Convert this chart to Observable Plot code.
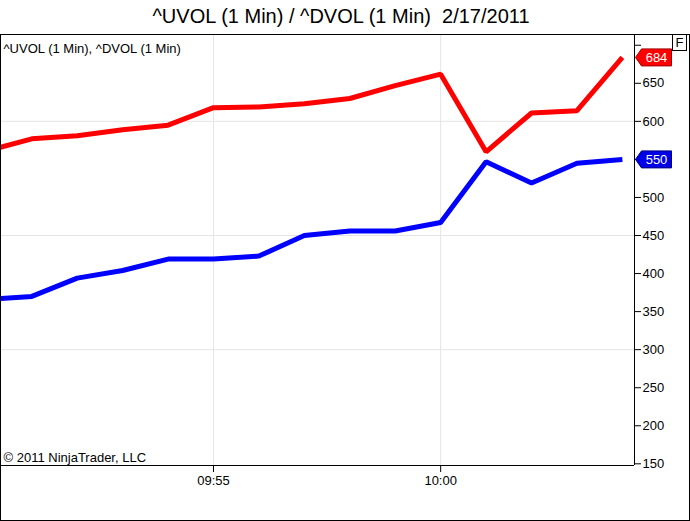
<!DOCTYPE html>
<html>
<head>
<meta charset="utf-8">
<script src="https://cdn.jsdelivr.net/npm/d3@7"></script>
<script src="https://cdn.jsdelivr.net/npm/@observablehq/plot@0.6"></script>
<style>
  html, body { margin: 0; padding: 0; background: #fff; }
  body { width: 690px; height: 521px; position: relative; font-family: "Liberation Sans", Arial, sans-serif; }
  #title { height: 29px; padding-top: 5px; line-height: 23px; font-size: 20px; text-align: center; width: 682px; color: #000; }
  #wrap { position: absolute; left: 0; top: 34px; width: 688px; height: 485px; border: 1px solid #000; }
  #wrap svg { display: block; }
  #fbox { position: absolute; left: 672px; top: 34px; width: 13px; height: 15px; border: 1px solid #000; font-size: 13px; line-height: 15px; text-align: center; background: #fff; }
</style>
</head>
<body>
<div id="title">^UVOL (1 Min) / ^DVOL (1 Min)&nbsp; 2/17/2011</div>
<div id="wrap"></div>
<div id="fbox">F</div>
<script>
// ---- data ----
const minutes = ["09:50","09:51","09:52","09:53","09:54","09:55","09:56","09:57","09:58","09:59","10:00","10:01","10:02","10:03","10:04"];
const uvol = [561, 577, 581, 589, 595, 618, 619, 623, 630, 647, 662, 560, 611, 614, 684];
const dvol = [366, 370, 394, 404, 419, 419, 423, 450, 456, 456, 467, 547, 519, 545, 550];
const xTickLabels = ["09:55", "10:00"];
const yTicks = [150, 200, 250, 300, 350, 400, 450, 500, 550, 600, 650, 700];
const yHiddenLabels = [550, 700];
const yGrid = [300, 450, 600];
const seriesNames = ["^UVOL (1 Min)", "^DVOL (1 Min)"];
const legendText = "^UVOL (1 Min), ^DVOL (1 Min)";
const copyright = "\u00A9 2011 NinjaTrader, LLC";

const toDate = (hm) => { const [h, m] = hm.split(":").map(Number); return new Date(Date.UTC(2011, 1, 17, h, m)); };
const rows = [];
minutes.forEach((m, i) => {
  rows.push({t: toDate(m), v: uvol[i], s: seriesNames[0]});
  rows.push({t: toDate(m), v: dvol[i], s: seriesNames[1]});
});
const upRows = rows.filter(d => d.s === seriesNames[0]);
const dnRows = rows.filter(d => d.s === seriesNames[1]);

const xDomain = [new Date(Date.UTC(2011,1,17,9,50,20)), new Date(Date.UTC(2011,1,17,10,4,16))];
const yDomain = [147.8, 712.8];
const xTicks = xTickLabels.map(toDate);

const lastUp = {t: xDomain[1], v: uvol[uvol.length - 1]};
const lastDn = {t: xDomain[1], v: dvol[dvol.length - 1]};

const tagSymbol = {
  draw(ctx) {
    ctx.moveTo(1, 0);
    ctx.lineTo(7, -8.5);
    ctx.lineTo(37, -8.5);
    ctx.lineTo(37, 8.5);
    ctx.lineTo(7, 8.5);
    ctx.closePath();
  }
};

const plot = Plot.plot({
  width: 688,
  height: 485,
  marginLeft: 0,
  marginRight: 55,
  marginTop: 0,
  marginBottom: 55,
  style: {fontFamily: "'Liberation Sans', Arial, sans-serif", fontSize: "13px", color: "#000", background: "#fff", overflow: "visible"},
  x: {type: "utc", domain: xDomain, label: null},
  y: {domain: yDomain, label: null},
  marks: [
    Plot.gridY(yGrid, {stroke: "#e4e4e4", strokeOpacity: 1}),
    Plot.gridX(xTicks, {stroke: "#e4e4e4", strokeOpacity: 1}),
    Plot.line(upRows, {x: "t", y: "v", stroke: "#ff0000", strokeWidth: 5, strokeLinecap: "butt", strokeLinejoin: "miter", clip: true}),
    Plot.line(dnRows, {x: "t", y: "v", stroke: "#0000ff", strokeWidth: 5, strokeLinecap: "butt", strokeLinejoin: "miter", clip: true}),
    Plot.ruleX([xDomain[1]], {stroke: "#000"}),
    Plot.ruleY([yDomain[0]], {stroke: "#000"}),
    Plot.axisY(yTicks, {anchor: "right", label: null, tickSize: 6, tickPadding: 2, tickFormat: d => yHiddenLabels.includes(d) ? "" : String(d), fontSize: 13}),
    Plot.axisX(xTicks, {anchor: "bottom", label: null, tickSize: 7, tickPadding: 3, tickFormat: d3.utcFormat("%H:%M"), fontSize: 13}),
    Plot.text([legendText], {frameAnchor: "top-left", dx: 2, dy: 13, lineAnchor: "middle", textAnchor: "start", fontSize: 13, fill: "#000"}),
    Plot.text([copyright], {frameAnchor: "bottom-left", dx: 2, dy: -7.5, lineAnchor: "middle", textAnchor: "start", fontSize: 13, fill: "#000"}),
    Plot.dot([lastUp], {x: "t", y: "v", symbol: tagSymbol, fill: "#ff0000", stroke: "#a00000", strokeWidth: 1, r: 5}),
    Plot.dot([lastDn], {x: "t", y: "v", symbol: tagSymbol, fill: "#0000e6", stroke: "#000080", strokeWidth: 1, r: 5}),
    Plot.text([lastUp], {x: "t", y: "v", text: d => String(d.v), dx: 22, fill: "#fff", fontSize: 13}),
    Plot.text([lastDn], {x: "t", y: "v", text: d => String(d.v), dx: 22, fill: "#fff", fontSize: 13})
  ]
});
document.getElementById("wrap").appendChild(plot);
</script>
</body>
</html>
